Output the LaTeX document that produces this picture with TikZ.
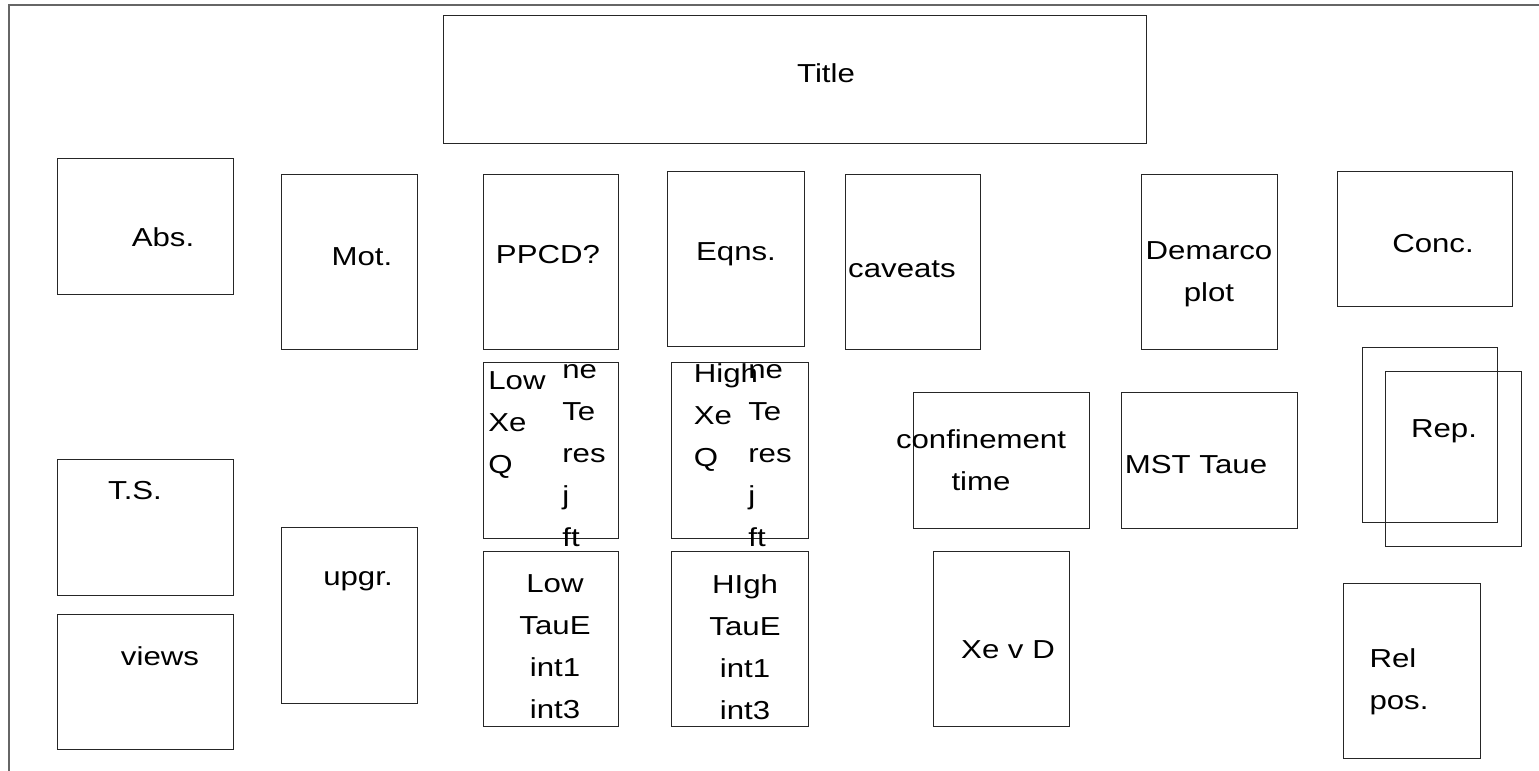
\documentclass[tikz,border=0pt]{standalone}
\usepackage{fontspec}
\setmainfont{Liberation Sans}[FakeStretch=1.2]

\begin{document}
\begin{tikzpicture} [x=0.5pt, y=-0.5pt,
				panel/.style 2 args={
				% The shape:
				rectangle,
				% The size:
      				minimum width=#1*0.5pt, minimum height=#2*0.5pt, inner sep=0pt,
				% The border:
      				draw=black!85, line width=0.5pt
    				},
				words/.style={
				% The text:
				inner sep=0pt, align=center,
				font=\fontsize{13}{21}\selectfont
    				},
				outline/.style={draw=black!60, line width=0.8pt},
				]
    \useasboundingbox (0,0) rectangle (1539,771);
    % page frame
    \coordinate (tr) at (1539,5);
    \coordinate (tl) at (9,5);
    \coordinate (bl) at (9,771);
    \draw[outline] (tr) -- (tl) -- (bl);
    % top row
    \node [panel={703}{128}] (title) at (794.5,79) {};
    \node [words] (titleT) at (826,73) {Title};
    \node [panel={176}{136}] (abs) at (145,226) {};
    \node [words] (absT) at (163,237) {Abs.};
    \node [panel={136}{175}] (mot) at (349,261.5) {};
    \node [words] (motT) at (362,257) {Mot.};
    \node [panel={135}{175}] (ppcd) at (550.5,261.5) {};
    \node [words] (ppcdT) at (548,255) {PPCD?};
    \node [panel={137}{175}] (eqns) at (735.5,258.5) {};
    \node [words] (eqnsT) at (736,254) {Eqns.};
    \node [panel={135}{175}] (cav) at (912.5,261.5) {};
    \node [words] (cavT) at (902,269) {caveats};
    \node [panel={136}{175}] (dem) at (1209,261.5) {};
    \node [words] (demT) at (1209,274) {Demarco\\plot};
    \node [panel={175}{135}] (conc) at (1424.5,238.5) {};
    \node [words] (concT) at (1433,244) {Conc.};
    % middle
    \node [panel={135}{176}] (lowq) at (550.5,450) {};
    \node [words, align=left] (lowqA) at (517,425) {Low\\Xe\\Q};
    \node [words, align=left] (lowqB) at (584,456) {ne\\Te\\res\\j\\ft};
    \node [panel={137}{176}] (highq) at (739.5,450) {};
    \node [words, align=left] (highqA) at (726,418) {High\\Xe\\Q};
    \node [words, align=left] (highqB) at (770,456) {ne\\Te\\res\\j\\ft};
    \node [panel={176}{136}] (conf) at (1001,460) {};
    \node [words] (confT) at (981,460) {confinement\\time};
    \node [panel={176}{136}] (mst) at (1209,460) {};
    \node [words] (mstT) at (1196,465) {MST Taue};
    \node [panel={135}{175}] (rep) at (1429.5,434.5) {};
    \node [panel={136}{175}] (repb) at (1453,458.5) {};
    \node [words] (repT) at (1444,431) {Rep.};
    % bottom
    \node [panel={176}{136}] (ts) at (145,527) {};
    \node [words] (tsT) at (135,491) {T.S.};
    \node [panel={176}{135}] (views) at (145,681.5) {};
    \node [words] (viewsT) at (160,656) {views};
    \node [panel={136}{176}] (upgr) at (349,615) {};
    \node [words] (upgrT) at (358,581) {upgr.};
    \node [panel={135}{175}] (lowt) at (550.5,638.5) {};
    \node [words] (lowtT) at (555,647) {Low\\TauE\\int1\\int3};
    \node [panel={137}{175}] (hight) at (739.5,638.5) {};
    \node [words] (hightT) at (745,647) {HIgh\\TauE\\int1\\int3};
    \node [panel={136}{175}] (xevd) at (1001,638.5) {};
    \node [words] (xevdT) at (1008,650) {Xe v D};
    \node [panel={137}{175}] (rel) at (1411.5,670.5) {};
    \node [words, align=left] (relT) at (1399,682) {Rel\\pos.};
\end{tikzpicture}
\end{document}
